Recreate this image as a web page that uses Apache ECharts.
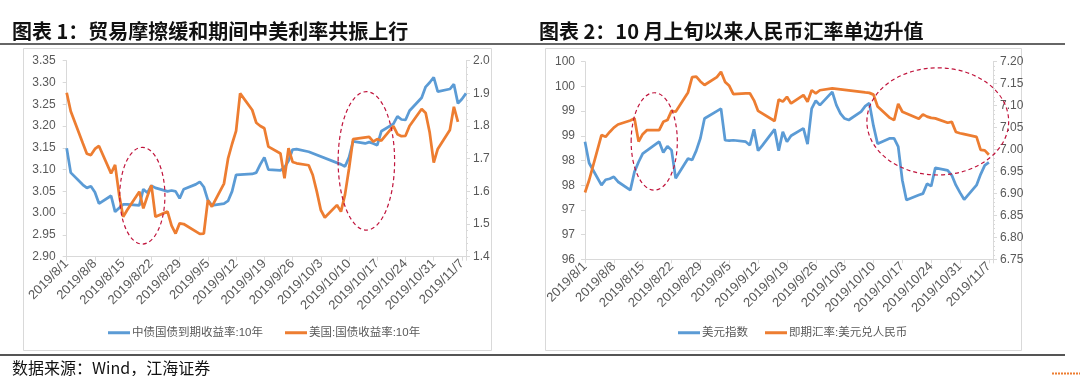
<!DOCTYPE html>
<html>
<head>
<meta charset="utf-8">
<script src="https://cdn.jsdelivr.net/npm/echarts@6/dist/echarts.min.js"></script>
<style>
html,body{margin:0;padding:0;background:#fff;}
#c{width:1080px;height:376px;}
</style>
</head>
<body>
<div id="c"></div>
<script>
// ---------- DATA ----------
const xTickLabels = ['2019/8/1','2019/8/8','2019/8/15','2019/8/22','2019/8/29','2019/9/5','2019/9/12','2019/9/19','2019/9/26','2019/10/3','2019/10/10','2019/10/17','2019/10/24','2019/10/31','2019/11/7'];

const title1 = '图表 1：贸易摩擦缓和期间中美利率共振上行';
const title2 = '图表 2：10 月上旬以来人民币汇率单边升值';
const sourceText = '数据来源：Wind，江海证券';

const seriesNames1 = ['中债国债到期收益率:10年', '美国:国债收益率:10年'];
const seriesNames2 = ['美元指数', '即期汇率:美元兑人民币'];

// Chart 1, China 10Y (left axis)
const cnDates = ['8/1','8/2','8/5','8/6','8/7','8/8','8/9','8/12','8/13','8/14','8/15','8/16','8/19','8/20','8/21','8/22','8/23','8/26','8/27','8/28','8/29','8/30',
 '9/2','9/3','9/4','9/5','9/6','9/9','9/10','9/11','9/12','9/16','9/17','9/18','9/19','9/20','9/23','9/24','9/25','9/26','9/27','9/30',
 '10/8','10/9','10/10','10/11','10/14','10/15','10/16','10/17','10/18','10/21','10/22','10/23','10/24','10/25','10/28','10/29','10/30','10/31',
 '11/1','11/4','11/5','11/6','11/7','11/8'];
const cnYield = [3.149,3.093,3.065,3.058,3.062,3.048,3.022,3.040,3.003,3.012,3.020,3.020,3.018,3.055,3.047,3.063,3.058,3.050,3.052,3.050,3.034,3.055,
 3.066,3.072,3.060,3.030,3.018,3.022,3.028,3.050,3.088,3.090,3.093,3.112,3.128,3.100,3.098,3.105,3.120,3.146,3.147,3.141,
 3.112,3.107,3.128,3.165,3.160,3.163,3.160,3.156,3.188,3.205,3.222,3.215,3.214,3.235,3.265,3.290,3.300,3.312,
 3.279,3.285,3.296,3.252,3.262,3.275];

// Chart 1, US 10Y (right axis)
const usDates = ['8/1','8/2','8/5','8/6','8/7','8/8','8/9','8/12','8/13','8/14','8/15','8/16','8/19','8/20','8/21','8/22','8/23','8/26','8/27','8/28','8/29','8/30',
 '9/3','9/4','9/5','9/6','9/9','9/10','9/11','9/12','9/13','9/16','9/17','9/18','9/19','9/20','9/23','9/24','9/25','9/26','9/27','9/30',
 '10/1','10/2','10/3','10/4','10/7','10/8','10/9','10/10','10/11','10/15','10/16','10/17','10/18','10/21','10/22','10/23','10/24','10/25','10/28','10/29','10/30','10/31',
 '11/1','11/4','11/5','11/6'];
const usYield = [1.902,1.845,1.747,1.715,1.711,1.730,1.739,1.655,1.681,1.590,1.522,1.543,1.599,1.548,1.585,1.619,1.522,1.538,1.495,1.471,1.502,1.500,
 1.470,1.471,1.573,1.553,1.624,1.700,1.745,1.785,1.900,1.849,1.810,1.800,1.793,1.737,1.716,1.640,1.732,1.690,1.686,1.680,
 1.650,1.600,1.543,1.520,1.558,1.538,1.590,1.670,1.760,1.767,1.752,1.760,1.755,1.800,1.775,1.769,1.770,1.800,1.852,1.840,1.780,1.688,
 1.730,1.788,1.859,1.813];

// Chart 2, US dollar index (left axis)
const dxyDates = ['8/1','8/2','8/5','8/6','8/7','8/8','8/9','8/12','8/13','8/14','8/15','8/16','8/19','8/20','8/21','8/22','8/23','8/26','8/27','8/28','8/29','8/30',
 '9/2','9/3','9/4','9/5','9/6','9/9','9/10','9/11','9/12','9/13','9/16','9/17','9/18','9/19','9/20','9/23','9/24','9/25','9/26','9/27','9/30',
 '10/1','10/2','10/3','10/4','10/7','10/8','10/9','10/10','10/11','10/14','10/15','10/16','10/17','10/18','10/21','10/22','10/23','10/24','10/25','10/28','10/29','10/30','10/31',
 '11/1','11/4','11/5','11/6','11/7'];
const dxy = [98.38,97.95,97.50,97.61,97.63,97.67,97.57,97.40,97.77,97.97,98.14,98.20,98.38,98.16,98.29,98.21,97.64,98.04,98.01,98.20,98.45,98.85,
 99.00,99.05,98.41,98.40,98.41,98.38,98.31,98.63,98.20,98.30,98.63,98.20,98.58,98.38,98.50,98.65,98.33,99.05,99.21,99.12,99.39,
 99.12,98.95,98.85,98.82,98.99,99.10,99.16,98.70,98.34,98.45,98.45,98.28,97.60,97.20,97.30,97.33,97.53,97.48,97.85,97.80,97.70,97.50,97.35,
 97.21,97.50,97.72,97.90,97.96];

// Chart 2, USD/CNY spot (right axis)
const cnyDates = ['8/1','8/2','8/5','8/6','8/7','8/8','8/9','8/12','8/13','8/14','8/15','8/16','8/19','8/20','8/21','8/22','8/23','8/26','8/27','8/28','8/29','8/30',
 '9/2','9/3','9/4','9/5','9/6','9/9','9/10','9/11','9/12','9/16','9/17','9/18','9/19','9/20','9/23','9/24','9/25','9/26','9/27','9/30',
 '10/8','10/9','10/10','10/11','10/14','10/15','10/16','10/17','10/18','10/21','10/22','10/23','10/24','10/25','10/28','10/29','10/30','10/31',
 '11/1','11/4','11/5','11/6','11/7'];
const cny = [6.902,6.930,7.033,7.029,7.040,7.050,7.057,7.066,7.071,7.018,7.035,7.044,7.044,7.063,7.067,7.088,7.086,7.130,7.165,7.166,7.155,7.147,
 7.165,7.177,7.154,7.145,7.126,7.128,7.128,7.112,7.088,7.065,7.114,7.109,7.120,7.105,7.124,7.109,7.135,7.128,7.135,7.139,
 7.130,7.129,7.125,7.098,7.072,7.067,7.104,7.086,7.082,7.070,7.080,7.075,7.072,7.071,7.061,7.063,7.040,7.037,
 7.035,7.029,6.999,6.998,6.988];

// Dashed highlight ellipses, in data units: [xAxisIndex, yAxisIndex, centreDay, centreValue, radiusDays, radiusValue]
const highlightEllipses = [
  [0, 0, 18.75, 3.040, 5.6, 0.111],
  [0, 0, 74.3, 3.120, 7.0, 0.159],
  [1, 2, 16.8, 98.385, 5.6, 0.986],
  [1, 3, 85.6, 7.064, 17.2, 0.122]
];

// ---------- BUILD ----------
const START = Date.UTC(2019, 7, 1);
function dayIndex(s) {
  const p = s.split('/').map(Number);
  return Math.round((Date.UTC(2019, p[0] - 1, p[1]) - START) / 86400000);
}
function pairs(dates, vals) { return dates.map((d, i) => [dayIndex(d), vals[i]]); }

const FONT = '"Liberation Sans", "Noto Sans CJK SC", sans-serif';
const CJK = '"Noto Sans CJK SC", sans-serif';
const AX = '#D9D9D9';
const LBL = '#595959';
const BLUE = '#5B9BD5';
const ORANGE = '#ED7D31';

function makeX(gi) {
  return {
    type: 'value', gridIndex: gi, min: 0, max: 99, interval: 7,
    axisLine: { show: true, onZero: false, lineStyle: { color: AX, width: 1 } },
    axisTick: { show: true, length: 4, lineStyle: { color: AX } },
    splitLine: { show: false },
    axisLabel: {
      rotate: 45, fontSize: 13, color: LBL, fontFamily: FONT, margin: 5,
      formatter: v => (v % 7 === 0 && v / 7 < xTickLabels.length) ? xTickLabels[v / 7] : ''
    }
  };
}
function makeY(gi, pos, min, max, interval, fmt, minor, margin) {
  return {
    type: 'value', gridIndex: gi, position: pos, min: min, max: max, interval: interval,
    axisLine: { show: true, lineStyle: { color: AX, width: 1 } },
    axisTick: { show: true, length: 4, lineStyle: { color: AX } },
    minorTick: { show: !!minor, splitNumber: 5, length: 2, lineStyle: { color: AX } },
    splitLine: { show: false },
    axisLabel: { fontSize: 12, color: LBL, fontFamily: FONT, margin: margin, formatter: fmt }
  };
}
function lineSeries(name, xi, yi, data, color) {
  return {
    name: name, type: 'line', xAxisIndex: xi, yAxisIndex: yi, data: data,
    symbol: 'none', smooth: false, animation: false,
    lineStyle: { color: color, width: 2.75 }, itemStyle: { color: color }
  };
}
function text(x, y, str, size, weight, color) {
  return { type: 'text', x: x, y: y, z: 100,
    style: { text: str, fontSize: size, fontWeight: weight, fontFamily: CJK, fill: color,
      align: 'left', verticalAlign: 'middle', textAlign: 'left', textVerticalAlign: 'middle' } };
}

const chart = echarts.init(document.getElementById('c'), null, { renderer: 'canvas', width: 1080, height: 376 });

const option = {
  animation: false,
  backgroundColor: '#fff',
  textStyle: { fontFamily: FONT },
  grid: [
    { left: 66.7, top: 60.7, width: 399.3, height: 196, containLabel: false },
    { left: 585, top: 61.7, width: 408, height: 197.6, containLabel: false }
  ],
  xAxis: [makeX(0), makeX(1)],
  yAxis: [
    makeY(0, 'left', 2.9, 3.35, 0.05, v => v.toFixed(2), false, 11),
    makeY(0, 'right', 1.4, 2.0, 0.1, v => v.toFixed(1), true, 7),
    makeY(1, 'left', 96, 100, 0.5, v => String(Math.round(v + 1e-9)), false, 10),
    makeY(1, 'right', 6.75, 7.20, 0.05, v => v.toFixed(2), true, 7)
  ],
  legend: [
    { data: seriesNames1, left: 103, top: 322, icon: 'rect', itemWidth: 22, itemHeight: 3, itemGap: 22,
      textStyle: { fontSize: 11.5, color: LBL, fontFamily: FONT, padding: [0, 0, 0, -3] } },
    { data: seriesNames2, left: 673, top: 322, icon: 'rect', itemWidth: 22, itemHeight: 3, itemGap: 17,
      textStyle: { fontSize: 11.5, color: LBL, fontFamily: FONT, padding: [0, 0, 0, -3] } }
  ],
  series: [
    lineSeries(seriesNames1[0], 0, 0, pairs(cnDates, cnYield), BLUE),
    lineSeries(seriesNames1[1], 0, 1, pairs(usDates, usYield), ORANGE),
    lineSeries(seriesNames2[0], 1, 2, pairs(dxyDates, dxy), BLUE),
    lineSeries(seriesNames2[1], 1, 3, pairs(cnyDates, cny), ORANGE)
  ]
};
chart.setOption(option);

// Decorations (titles, frames, rules, source) + ellipses placed through the axes' scales
const graphics = [
  text(12, 31.5, title1, 20, 'bold', '#111'),
  text(539, 31.5, title2, 20, 'bold', '#111'),
  { type: 'line', shape: { x1: 0, y1: 44, x2: 1065, y2: 44 }, style: { stroke: '#333', lineWidth: 1.5 } },
  { type: 'rect', shape: { x: 23.5, y: 48.5, width: 468, height: 302 }, style: { fill: null, stroke: AX, lineWidth: 1 } },
  { type: 'rect', shape: { x: 545.5, y: 48.5, width: 476, height: 302 }, style: { fill: null, stroke: AX, lineWidth: 1 } },
  { type: 'line', shape: { x1: 0, y1: 355, x2: 1065, y2: 355 }, style: { stroke: '#555', lineWidth: 2 } },
  text(12, 368, sourceText, 16, 'normal', '#111'),
  { type: 'line', shape: { x1: 1052, y1: 373.5, x2: 1080, y2: 373.5 }, style: { stroke: ORANGE, lineWidth: 2, lineDash: [2, 1] } }
];
highlightEllipses.forEach(e => {
  const finder = { xAxisIndex: e[0], yAxisIndex: e[1] };
  const c = chart.convertToPixel(finder, [e[2], e[3]]);
  const p = chart.convertToPixel(finder, [e[2] + e[4], e[3] + e[5]]);
  graphics.push({ type: 'ellipse', z: 100,
    shape: { cx: c[0], cy: c[1], rx: Math.abs(p[0] - c[0]), ry: Math.abs(p[1] - c[1]) },
    style: { fill: null, stroke: '#C0143C', lineWidth: 1.2, lineDash: [4, 3] } });
});
chart.setOption({ graphic: graphics });
</script>
</body>
</html>
